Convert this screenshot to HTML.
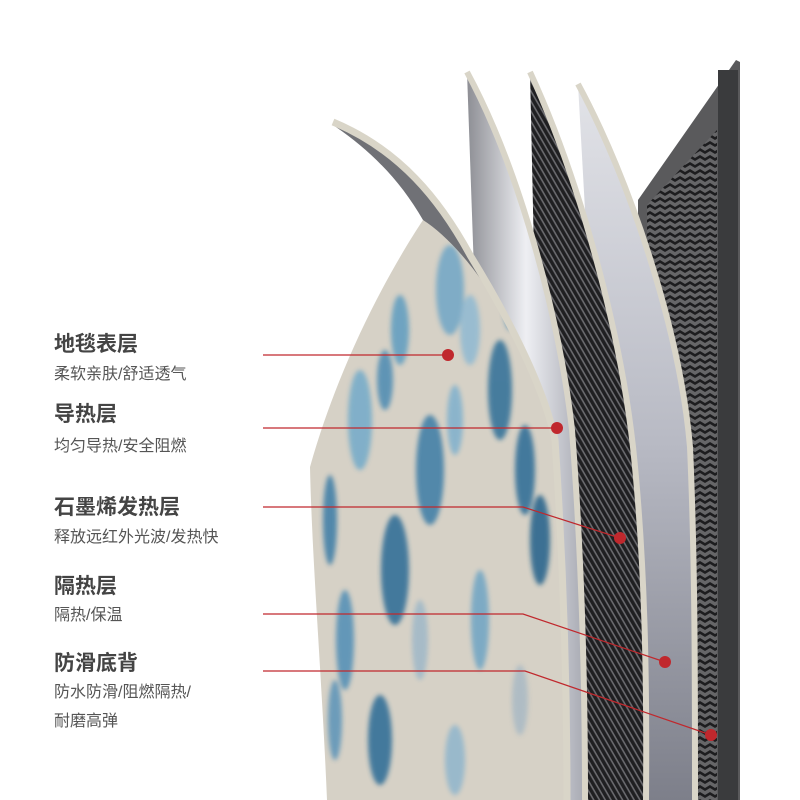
<!DOCTYPE html>
<html><head><meta charset="utf-8"><style>
html,body{margin:0;padding:0;background:#fff;width:800px;height:800px;overflow:hidden}
svg{display:block}
.t{font-family:"Liberation Sans","Noto Sans CJK SC",sans-serif;font-weight:bold;font-size:21px;fill:#444}
.s{font-family:"Liberation Sans","Noto Sans CJK SC",sans-serif;font-size:16px;fill:#555}
</style></head><body>
<svg width="800" height="800" viewBox="0 0 800 800" xmlns="http://www.w3.org/2000/svg">
<defs>
<linearGradient id="sil" x1="0" y1="0" x2="1" y2="0">
<stop offset="0" stop-color="#8d8e94"/><stop offset="0.5" stop-color="#eeeff3"/><stop offset="1" stop-color="#a7a9b2"/></linearGradient>
<linearGradient id="sil2" x1="0" y1="0" x2="0" y2="1">
<stop offset="0" stop-color="#e2e3e8"/><stop offset="0.5" stop-color="#b8bac4"/><stop offset="1" stop-color="#7d7f8a"/></linearGradient>
<pattern id="str" width="5" height="5" patternUnits="userSpaceOnUse" patternTransform="rotate(60)">
<rect width="5" height="5" fill="#1f1f21"/><rect width="5" height="1.6" fill="#6a6a6e"/></pattern>
<pattern id="zig" width="10" height="7" patternUnits="userSpaceOnUse">
<rect width="10" height="7" fill="#666668"/><path d="M0,1 L5,4 L10,1 L10,4 L5,7 L0,4Z" fill="#1d1d1f"/></pattern>
<filter id="bl"><feGaussianBlur stdDeviation="2.5"/></filter>
<clipPath id="cc"><path d="M423,220 C470,250 530,340 555,440 C565,560 567,680 567,800 L327,800 C322,680 312,560 310,467 C340,360 390,270 423,220Z"/></clipPath>
</defs>
<path d="M638,200 L736,60 L740,62 L740,800 L638,800Z" fill="#5a5a5c"/>
<path d="M647,205 L717,130 L717,800 L647,800Z" fill="url(#zig)"/>
<rect x="718" y="70" width="20" height="730" fill="#3a3b3d"/>
<path d="M578,84 C630,180 680,330 690,447 C695,560 695,680 695,800 L620,800 L590,300Z" fill="url(#sil2)"/>
<path d="M578,84 C630,180 680,330 690,447 C695,560 695,680 695,800" fill="none" stroke="#d9d5c8" stroke-width="6"/>
<path d="M530,72 C580,180 620,330 633,447 C645,560 647,680 646,800 L585,800 L535,300Z" fill="url(#str)"/>
<path d="M530,72 C580,180 620,330 633,447 C645,560 647,680 646,800" fill="none" stroke="#d9d5c8" stroke-width="6"/>
<path d="M467,72 C520,170 560,320 572,430 C582,560 585,680 585,800 L540,800 L475,300Z" fill="url(#sil)"/>
<path d="M467,72 C520,170 560,320 572,430 C582,560 585,680 585,800" fill="none" stroke="#d9d5c8" stroke-width="6"/>
<path d="M333,122 C400,150 440,200 470,255 C500,300 530,360 555,440 L567,800 L560,800 L540,440 C520,380 470,290 423,220 C400,180 370,150 333,125Z" fill="#707176"/>
<g clip-path="url(#cc)">
<rect x="300" y="200" width="280" height="600" fill="#d6d1c6"/>
<g filter="url(#bl)" opacity="0.85">
<ellipse cx="450" cy="290" rx="14" ry="45" fill="#6fa6c6"/>
<ellipse cx="470" cy="330" rx="10" ry="35" fill="#8fb9d2"/>
<ellipse cx="400" cy="330" rx="9" ry="35" fill="#5d9cc0"/>
<ellipse cx="500" cy="390" rx="12" ry="50" fill="#2f6e97"/>
<ellipse cx="525" cy="470" rx="10" ry="45" fill="#2a6a95"/>
<ellipse cx="360" cy="420" rx="12" ry="50" fill="#72aac9"/>
<ellipse cx="385" cy="380" rx="8" ry="30" fill="#4b8ab2"/>
<ellipse cx="430" cy="470" rx="14" ry="55" fill="#3a7ca6"/>
<ellipse cx="455" cy="420" rx="8" ry="35" fill="#7fb0cd"/>
<ellipse cx="540" cy="540" rx="10" ry="45" fill="#22608a"/>
<ellipse cx="395" cy="570" rx="14" ry="55" fill="#2a6a95"/>
<ellipse cx="420" cy="640" rx="8" ry="40" fill="#9fb8c8"/>
<ellipse cx="480" cy="620" rx="9" ry="50" fill="#6ea4c4"/>
<ellipse cx="345" cy="640" rx="9" ry="50" fill="#4f8db5"/>
<ellipse cx="380" cy="740" rx="12" ry="45" fill="#2a6a95"/>
<ellipse cx="455" cy="760" rx="10" ry="35" fill="#8fb5cc"/>
<ellipse cx="520" cy="700" rx="8" ry="35" fill="#a9b9c4"/>
<ellipse cx="330" cy="520" rx="7" ry="45" fill="#3a7ca6"/>
<ellipse cx="335" cy="720" rx="7" ry="40" fill="#5a93b8"/>
<ellipse cx="510" cy="300" rx="7" ry="30" fill="#4b8ab2"/>
</g>
</g>
<path d="M333,122 C400,150 440,200 470,255 C510,320 545,390 555,440 C563,560 567,680 567,800" fill="none" stroke="#d9d5c8" stroke-width="7"/>
<g stroke="#c0282d" stroke-width="1.2" fill="none">
<path d="M263,355 L448,355"/>
<path d="M263,428 L557,428"/>
<path d="M263,507 L523,507 L620,538"/>
<path d="M263,614 L523,614 L665,662"/>
<path d="M263,671 L525,671 L711,735"/>
</g>
<g fill="#c0282d">
<circle cx="448" cy="355" r="6"/><circle cx="557" cy="428" r="6"/>
<circle cx="620" cy="538" r="6"/><circle cx="665" cy="662" r="6"/><circle cx="711" cy="735" r="6"/>
</g>
<text class="t" x="54" y="351">地毯表层</text>
<text class="s" x="54" y="379">柔软亲肤/舒适透气</text>
<text class="t" x="54" y="421">导热层</text>
<text class="s" x="54" y="451">均匀导热/安全阻燃</text>
<text class="t" x="54" y="514">石墨烯发热层</text>
<text class="s" x="54" y="542">释放远红外光波/发热快</text>
<text class="t" x="54" y="593">隔热层</text>
<text class="s" x="54" y="620">隔热/保温</text>
<text class="t" x="54" y="670">防滑底背</text>
<text class="s" x="54" y="697">防水防滑/阻燃隔热/</text>
<text class="s" x="54" y="726">耐磨高弹</text>
</svg>
</body></html>
